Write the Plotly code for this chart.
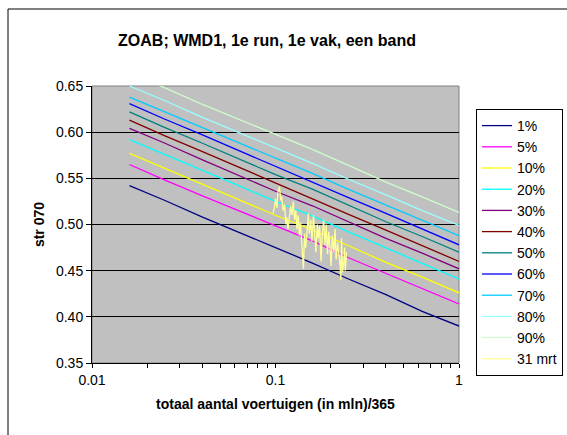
import plotly.graph_objects as go

# Percentile curves: x = total vehicles (mln)/365, y = str 070
x_pct = [0.016, 0.025, 0.04, 0.063, 0.1, 0.16, 0.25, 0.4, 0.63, 1.0]
p01 = [0.542, 0.526, 0.508, 0.492, 0.475, 0.458, 0.441, 0.424, 0.406, 0.390]
p05 = [0.565, 0.548, 0.531, 0.515, 0.498, 0.482, 0.464, 0.447, 0.431, 0.414]
p10 = [0.577, 0.561, 0.544, 0.527, 0.510, 0.494, 0.477, 0.459, 0.443, 0.426]
p20 = [0.592, 0.576, 0.559, 0.542, 0.525, 0.509, 0.492, 0.475, 0.458, 0.441]
p30 = [0.604, 0.588, 0.570, 0.553, 0.536, 0.520, 0.503, 0.485, 0.469, 0.452]
p40 = [0.613, 0.596, 0.579, 0.562, 0.545, 0.528, 0.511, 0.494, 0.477, 0.460]
p50 = [0.622, 0.605, 0.588, 0.571, 0.554, 0.538, 0.521, 0.503, 0.487, 0.470]
p60 = [0.631, 0.614, 0.597, 0.580, 0.563, 0.546, 0.529, 0.512, 0.495, 0.478]
p70 = [0.638, 0.622, 0.605, 0.588, 0.572, 0.555, 0.538, 0.521, 0.505, 0.488]
p80 = [0.650, 0.634, 0.616, 0.600, 0.583, 0.566, 0.549, 0.532, 0.515, 0.499]
p90 = [0.664, 0.648, 0.630, 0.614, 0.597, 0.581, 0.564, 0.546, 0.530, 0.513]

# Measured series "31 mrt"
x_mrt = [0.097, 0.099, 0.100, 0.102, 0.103, 0.105, 0.107, 0.108, 0.110, 0.112,
         0.114, 0.115, 0.117, 0.119, 0.121, 0.123, 0.125, 0.127, 0.129, 0.131,
         0.133, 0.135, 0.137, 0.139, 0.142, 0.144, 0.146, 0.149, 0.151, 0.153,
         0.156, 0.158, 0.161, 0.163, 0.166, 0.169, 0.171, 0.174, 0.177, 0.180,
         0.183, 0.186, 0.189, 0.192, 0.195, 0.198, 0.201, 0.204, 0.208, 0.211,
         0.214, 0.218, 0.221, 0.225, 0.227, 0.229, 0.232, 0.236, 0.238, 0.240,
         0.244]
y_mrt = [0.512, 0.520, 0.528, 0.518, 0.535, 0.541, 0.526, 0.530, 0.515, 0.522,
         0.500, 0.508, 0.495, 0.505, 0.520, 0.510, 0.525, 0.505, 0.515, 0.495,
         0.510, 0.488, 0.502, 0.480, 0.452, 0.490, 0.475, 0.495, 0.512, 0.490,
         0.505, 0.482, 0.510, 0.495, 0.470, 0.500, 0.485, 0.498, 0.460, 0.490,
         0.505, 0.478, 0.500, 0.468, 0.492, 0.475, 0.455, 0.488, 0.470, 0.495,
         0.462, 0.480, 0.470, 0.455, 0.440, 0.485, 0.448, 0.460, 0.475, 0.450,
         0.470]

names = ["1%", "5%", "10%", "20%", "30%", "40%", "50%", "60%", "70%", "80%", "90%"]
series = [p01, p05, p10, p20, p30, p40, p50, p60, p70, p80, p90]
colors = ["#000080", "#FF00FF", "#FFFF00", "#00FFFF", "#800080", "#800000",
          "#008080", "#0000FF", "#00CCFF", "#99FFFF", "#CCFFCC"]

x_tickvals = [0.01, 0.02, 0.03, 0.04, 0.05, 0.06, 0.07, 0.08, 0.09,
              0.1, 0.2, 0.3, 0.4, 0.5, 0.6, 0.7, 0.8, 0.9, 1]
x_ticktext = ["0.01", "", "", "", "", "", "", "", "",
              "0.1", "", "", "", "", "", "", "", "", "1"]
y_tickvals = [0.35, 0.40, 0.45, 0.50, 0.55, 0.60, 0.65]

FONT = "Arial, Liberation Sans, sans-serif"
W, H = 567, 435

fig = go.Figure()
for nm, ys, c in zip(names, series, colors):
    fig.add_trace(go.Scatter(x=x_pct, y=ys, mode="lines", name=nm,
                             line=dict(color=c, width=1.3)))
fig.add_trace(go.Scatter(x=x_mrt, y=y_mrt, mode="lines", name="31 mrt",
                         line=dict(color="#FFFF99", width=1.3)))

L, R, T, B = 92, 108, 86, 72
pw, ph = W - L - R, H - T - B

fig.update_layout(
    width=W, height=H,
    margin=dict(l=L, r=R, t=T, b=B),
    paper_bgcolor="white",
    plot_bgcolor="#C0C0C0",
    font=dict(family=FONT, size=14, color="black"),
    title=dict(text="<b>ZOAB; WMD1, 1e run, 1e vak, een band</b>",
               font=dict(size=16, family=FONT),
               xref="container", x=267 / W, xanchor="center",
               yref="container", y=1 - 40 / H, yanchor="middle"),
    showlegend=True,
    legend=dict(xref="container", x=476 / W, xanchor="left",
                yref="paper", y=1 - (109 - T) / ph, yanchor="top",
                bgcolor="white", bordercolor="black", borderwidth=1,
                font=dict(size=14, family=FONT),
                traceorder="normal"),
    xaxis=dict(type="log", range=[-2, 0],
               tickvals=x_tickvals, ticktext=x_ticktext,
               ticks="outside", ticklen=4, tickcolor="black",
               tickfont=dict(size=14),
               showgrid=False, zeroline=False,
               showline=True, linecolor="black", linewidth=1,
               title=dict(text="<b>totaal aantal voertuigen (in mln)/365</b>",
                          font=dict(size=14), standoff=12)),
    yaxis=dict(range=[0.35, 0.65],
               tickvals=y_tickvals, tickformat=".2f",
               ticks="outside", ticklen=5, tickcolor="black",
               tickfont=dict(size=14),
               showgrid=True, gridcolor="black", gridwidth=1,
               zeroline=False,
               showline=True, linecolor="black", linewidth=1,
               title=dict(text="<b>str 070</b>", font=dict(size=14), standoff=8)),
)

# plot-area frame (top/right edges) and the outer chart border
fig.add_shape(type="rect", xref="paper", yref="paper", x0=0, x1=1, y0=0, y1=1,
              line=dict(color="#808080", width=1), layer="below")
fig.add_shape(type="rect", xref="paper", yref="paper",
              x0=(8 - L) / pw, x1=(580 - L) / pw,
              y0=-(450 - (T + ph)) / ph, y1=(T + ph - 9) / ph,
              line=dict(color="black", width=1))

fig.write_html("out.html")
